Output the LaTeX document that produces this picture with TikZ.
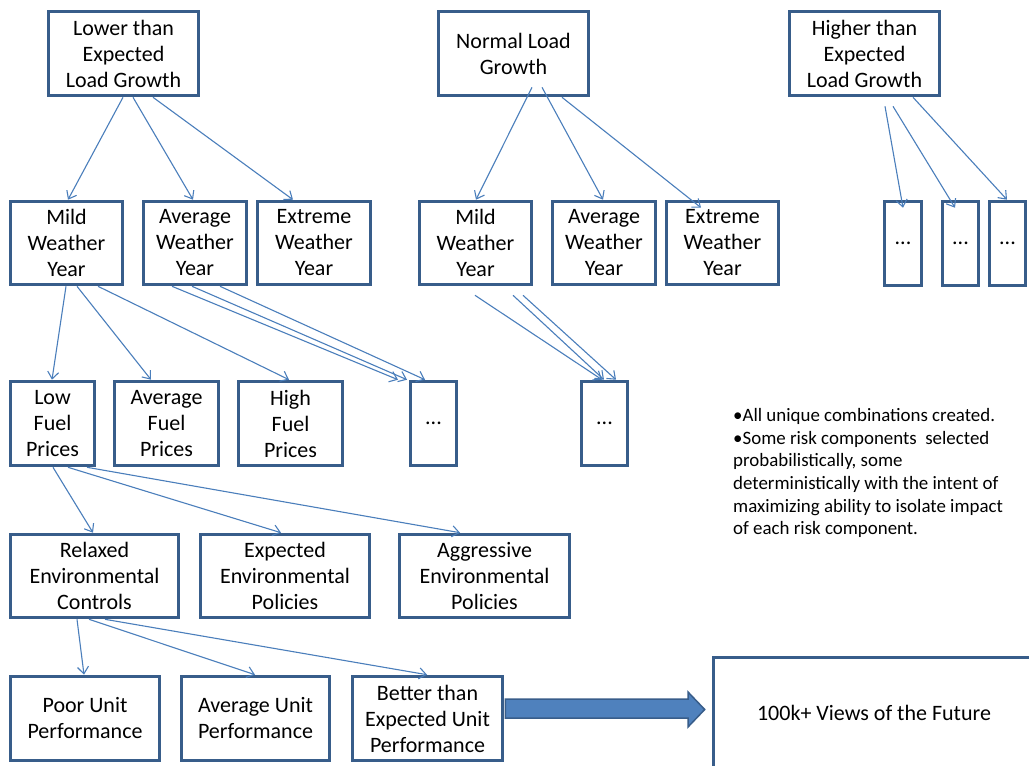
\documentclass[tikz,border=0pt]{standalone}
\usepackage{fontspec}
\setmainfont{Carlito}
\usetikzlibrary{arrows.meta,calc}
\definecolor{boxblue}{HTML}{385D8A}
\definecolor{lineblue}{HTML}{4A7EBB}
\definecolor{fillblue}{HTML}{4F81BD}
\newcommand\bx[6]{\node[box, minimum width={#4-#2-3}, minimum height={#5-#3-3}] (#1) at ({(#2+#4)/2},{(#3+#5)/2}) {#6};}
\newcommand\arr[6]{\draw[conn] ($(#2,0 |- #1.south)+(0,#3)$) -- ($(#5,0 |- #4.north)+(0,#6)$);}
\begin{document}
\begin{tikzpicture}[x=1pt,y=-1pt,
  box/.style={draw=boxblue, line width=3.6pt, fill=white, inner sep=0pt, align=center,
    font=\fontsize{22}{26}\selectfont, text=black},
  conn/.style={draw=lineblue, line width=1.1pt, -{Straight Barb[length=7pt,width=11pt]}},
  note/.style={anchor=north west, align=left, inner sep=0pt, font=\fontsize{18.9}{22.7}\selectfont}]
\useasboundingbox[fill=white] (0,0) rectangle (1029,766);
% level 1
\bx{Lower}{47}{10}{200}{97}{Lower than\\Expected\\Load Growth}
\bx{Normal}{437}{10}{590}{97}{Normal Load\\Growth}
\bx{Higher}{788}{10}{941}{97}{Higher than\\Expected\\Load Growth}
% level 2
\bx{MildA}{9}{200}{124}{286}{Mild\\Weather\\Year}
\bx{AvgA}{142}{200}{248}{286}{Average\\Weather\\Year}
\bx{ExtA}{256}{200}{372}{286}{Extreme\\Weather\\Year}
\bx{MildB}{418}{200}{533}{286}{Mild\\Weather\\Year}
\bx{AvgB}{551}{200}{657}{286}{Average\\Weather\\Year}
\bx{ExtB}{665}{200}{780}{286}{Extreme\\Weather\\Year}
\bx{DotA}{883}{200}{923}{287}{...}
\bx{DotB}{941}{200}{980}{287}{...}
\bx{DotC}{988}{200}{1027}{287}{...}
% level 3
\bx{LowF}{9}{380}{96}{467}{Low\\Fuel\\Prices}
\bx{AvgF}{113}{380}{220}{467}{Average\\Fuel\\Prices}
\bx{HighF}{237}{380}{344}{467}{High\\Fuel\\Prices}
\bx{DotD}{409}{380}{458}{467}{...}
\bx{DotE}{580}{380}{629}{467}{...}
% level 4
\bx{Relaxed}{9}{533}{180}{619}{Relaxed\\Environmental\\Controls}
\bx{ExpEnv}{199}{533}{371}{619}{Expected\\Environmental\\Policies}
\bx{AggEnv}{398}{533}{571}{619}{Aggressive\\Environmental\\Policies}
% level 5
\bx{Poor}{9}{675}{161}{762}{Poor Unit\\Performance}
\bx{AvgU}{180}{675}{331}{762}{Average Unit\\Performance}
\bx{Better}{351}{675}{504}{762}{Better than\\Expected Unit\\Performance}
\bx{Future}{712}{656}{1036}{770}{100k+ Views of the Future}
% connectors
\arr{Lower}{123}{0}{MildA}{68}{0}
\arr{Lower}{133}{0}{AvgA}{193}{0}
\arr{Lower}{153}{0}{ExtA}{293}{0}
\arr{Normal}{532}{-10}{MildB}{476}{0}
\arr{Normal}{542}{-10}{AvgB}{603}{0}
\arr{Normal}{562}{0}{ExtB}{701}{8}
\arr{Higher}{885}{9}{DotA}{903}{8}
\arr{Higher}{893}{9}{DotB}{955}{8}
\arr{Higher}{913}{0}{DotC}{1007}{0}
\arr{MildA}{66}{0}{LowF}{52}{0}
\arr{MildA}{77}{0}{AvgF}{151}{0}
\arr{MildA}{98}{0}{HighF}{289}{0}
\arr{AvgA}{172}{0}{DotD}{398}{0}
\arr{AvgA}{192}{0}{DotD}{407}{0}
\arr{AvgA}{220}{0}{DotD}{425}{0}
\arr{MildB}{475}{9}{DotE}{602}{0}
\arr{MildB}{513}{9}{DotE}{604}{0}
\arr{MildB}{523}{9}{DotE}{616}{0}
\arr{LowF}{53}{0}{Relaxed}{93}{0}
\arr{LowF}{68}{0}{ExpEnv}{281}{0}
\arr{LowF}{87}{0}{AggEnv}{460}{0}
\arr{Relaxed}{77}{0}{Poor}{84}{0}
\arr{Relaxed}{89}{0}{AvgU}{255}{0}
\arr{Relaxed}{105}{0}{Better}{427}{0}
% block arrow
\draw[fill=fillblue, draw=boxblue, line width=1.5pt, line join=miter]
  ($(Better.east |- 0,699)+(1,0)$) -- (688,699) -- (688,692) -- ($(Future.west |- 0,709.5)+(-7,0)$)
  -- (688,727) -- (688,718) -- ($(Better.east |- 0,718)+(1,0)$) -- cycle;
% note
\node[note] (Note) at (733,408) {•All unique combinations created.\\
•Some risk components \ selected\\
probabilistically, some\\
deterministically with the intent of\\
maximizing ability to isolate impact\\
of each risk component.};
\end{tikzpicture}
\end{document}
